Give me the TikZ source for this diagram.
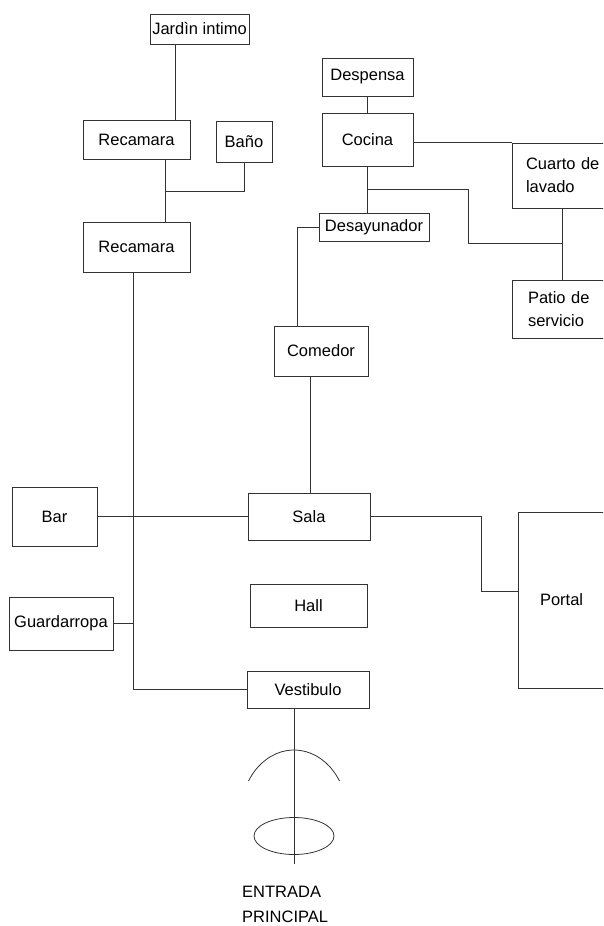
\documentclass[tikz,border=0pt]{standalone}
\usepackage{fontspec}
\usepackage{tikz}
\usetikzlibrary{shapes,positioning}
\newfontfamily\planofont{Liberation Sans}
\newcommand{\planotext}{\planofont\fontsize{16.5}{23}\selectfont}
\tikzset{
	room/.style = {
		draw=black!80, line width=0.8pt, rectangle, inner sep=0pt, font=\planotext
	}
}
\tikzset{
	openroom/.style = {
		room, align=left, text width=110pt
	}
}
\tikzset{
	link/.style = {
		draw=black!80, line width=0.8pt
	}
}

\begin{document}
\begin{tikzpicture}[x=1pt, y=-1pt]
	\useasboundingbox (0,0) rectangle (603,926);
	\clip (0,0) rectangle (603,926);
	% zona privada
	\node[room, minimum width=99pt, minimum height=30pt] (JardinIntimo) at (199.5,29) {Jard\`{\i}n intimo};
	\node[room, minimum width=107pt, minimum height=39pt] (Recamara) at (136.5,139.5) {Recamara};
	\node[room, minimum width=56pt, minimum height=41pt] (Bano) at (244,141.5) {Baño};
	\node[room, minimum width=107pt, minimum height=50pt] (RecamaraDos) at (136.5,247) {Recamara};
	% zona de servicio
	\node[room, minimum width=91pt, minimum height=38pt] (Despensa) at (367.5,77) {Despensa};
	\node[room, minimum width=91pt, minimum height=53pt] (Cocina) at (367.5,139.5) {Cocina};
	\node[openroom, inner xsep=14pt, minimum height=65pt] (CuartoLavado) at (581,175.5) {Cuarto de\\lavado};
	\node[openroom, inner xsep=16pt, minimum height=58pt] (PatioServicio) at (583,309) {Patio de\\servicio};
	\node[room, minimum width=110pt, minimum height=28pt] (Desayunador) at (374,227) {Desayunador};
	% zona social
	\node[room, minimum width=94pt, minimum height=50pt] (Comedor) at (321,351) {Comedor};
	\node[room, minimum width=122pt, minimum height=47pt] (Sala) at (309,516.5) {Sala};
	\node[room, minimum width=85pt, minimum height=59pt] (Bar) at (54.5,516.5) {Bar};
	\node[room, minimum width=104pt, minimum height=53pt] (Guardarropa) at (61,623.5) {Guardarropa};
	\node[room, minimum width=117pt, minimum height=43pt] (Hall) at (308.5,605.5) {Hall};
	\node[room, minimum width=122pt, minimum height=37pt] (Vestibulo) at (308,689.5) {Vestibulo};
	\node[openroom, inner xsep=22pt, minimum height=176pt] (Portal) at (595,600) {Portal};
	\node[font=\planofont\fontsize{16.5}{25}\selectfont, align=left, inner sep=0pt, anchor=base west] (Entrada) at (242,922) {ENTRADA\\PRINCIPAL};

	\coordinate (Enlace) at (165,191);
	\coordinate (Ramal) at (367,189);
	\coordinate (Tendedero) at (562,243);
	\coordinate (Pasillo) at (133,688);
	\coordinate (Codo) at (481,591);
	\coordinate (Umbral) at (294,864);

	\draw[link] (JardinIntimo.south -| 175,0) -- (Recamara.north -| 175,0);
	\draw[link] (Enlace |- Recamara.south) -- (Enlace |- RecamaraDos.north);
	\draw[link] (Enlace) -| (Bano.south);
	\draw[link] (Pasillo |- RecamaraDos.south) |- (Vestibulo.west);
	\draw[link] (Bar.east) -- (Sala.west);
	\draw[link] (Guardarropa.east) -- (Guardarropa.east -| Pasillo);
	\draw[link] (Despensa.south) -- (Cocina.north);
	\draw[link] (Cocina.east |- CuartoLavado.north) -- (CuartoLavado.north west);
	\draw[link] (Cocina.south) -- (Cocina.south |- Desayunador.north);
	\draw[link] (Ramal) -| (468,243) -- (Tendedero);
	\draw[link] (Tendedero |- CuartoLavado.south) -- (Tendedero |- PatioServicio.north);
	\draw[link] (Desayunador.west) -| (Comedor.north -| 297,0);
	\draw[link] (Comedor.south -| 310,0) -- (Sala.north -| 310,0);
	\draw[link] (Sala.east) -| (Codo) -- (Codo -| Portal.west);
	% entrada principal
	\draw[link] (Vestibulo.south -| Umbral) -- (Umbral);
	\draw[link] (339.5,781) arc[start angle=31.4, end angle=148.6, x radius=53.3pt, y radius=64.7pt];
	\draw[link] (294,836) ellipse[x radius=40pt, y radius=18.5pt];
\end{tikzpicture}
\end{document}
